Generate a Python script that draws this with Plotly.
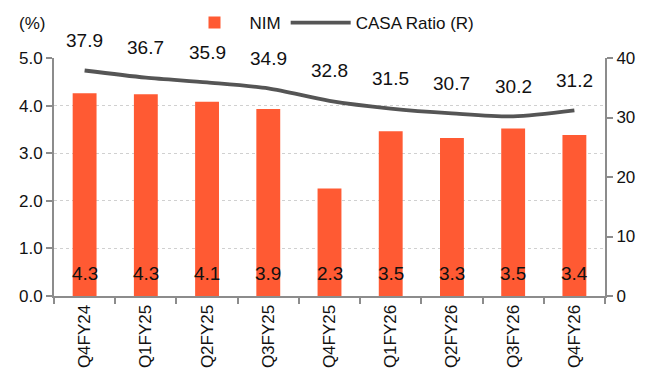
import plotly.graph_objects as go

categories = ["Q4FY24", "Q1FY25", "Q2FY25", "Q3FY25", "Q4FY25", "Q1FY26", "Q2FY26", "Q3FY26", "Q4FY26"]
nim = [4.26, 4.24, 4.08, 3.93, 2.26, 3.46, 3.32, 3.52, 3.38]
nim_labels = ["4.3", "4.3", "4.1", "3.9", "2.3", "3.5", "3.3", "3.5", "3.4"]
casa = [37.9, 36.7, 35.9, 34.9, 32.8, 31.5, 30.7, 30.2, 31.2]
left_ticks = [0, 1, 2, 3, 4, 5]
right_ticks = [0, 10, 20, 30, 40]

FONT = "Liberation Sans, Arial, sans-serif"
BAR_COLOR = "#FF5A33"
LINE_COLOR = "#555555"
AXIS_COLOR = "#8C8C8C"
TXT = "#111111"

fig = go.Figure()
fig.add_trace(go.Bar(x=categories, y=nim, name="NIM", marker=dict(color=BAR_COLOR, line=dict(width=0)), yaxis="y"))
fig.add_trace(go.Scatter(x=categories, y=casa, name="CASA Ratio (R)", mode="lines",
                         line=dict(color=LINE_COLOR, width=3.8, shape="spline", smoothing=0.8), yaxis="y2"))

annotations = []
for c, lab in zip(categories, nim_labels):
    annotations.append(dict(x=c, y=0, xref="x", yref="y", text=lab, showarrow=False,
                            yanchor="middle", yshift=23, font=dict(size=19, color=TXT, family=FONT)))
for c, v in zip(categories, casa):
    annotations.append(dict(x=c, y=v, xref="x", yref="y2", text=f"{v:.1f}", showarrow=False,
                            yanchor="middle", yshift=30, font=dict(size=19, color=TXT, family=FONT)))
annotations.append(dict(x=-0.04, y=1.147, xref="paper", yref="paper", text="(%)", showarrow=False,
                        xanchor="center", yanchor="middle", font=dict(size=17, color=TXT, family=FONT)))

fig.update_layout(
    width=657, height=376,
    margin=dict(l=54, r=52, t=58, b=80, autoexpand=False),
    paper_bgcolor="white", plot_bgcolor="white",
    font=dict(family=FONT, size=17, color=TXT),
    bargap=0.61,
    showlegend=True,
    legend=dict(orientation="h", x=0.5, xanchor="center", y=1.147, yanchor="middle",
                font=dict(size=17, family=FONT), bgcolor="rgba(0,0,0,0)", itemwidth=60),
    xaxis=dict(type="category", showline=True, linecolor=AXIS_COLOR, linewidth=2, automargin=False,
               ticks="outside", tickson="boundaries", ticklen=6, tickcolor=AXIS_COLOR, tickwidth=2,
               tickangle=-90, tickfont=dict(size=17, family=FONT), showgrid=False, range=[-0.5, 8.5]),
    yaxis=dict(range=[0, 5], tickvals=left_ticks, tickformat=".1f", showline=True, linecolor=AXIS_COLOR,
               linewidth=2, ticks="outside", ticklen=6, tickcolor=AXIS_COLOR, tickwidth=2, automargin=False,
               showgrid=True, gridcolor="#D0D0D0", griddash="dot", gridwidth=1, zeroline=False,
               tickfont=dict(size=17, family=FONT)),
    yaxis2=dict(range=[0, 40], tickvals=right_ticks, overlaying="y", side="right", showline=True,
                linecolor=AXIS_COLOR, linewidth=2, ticks="outside", ticklen=6, tickcolor=AXIS_COLOR,
                tickwidth=2, showgrid=False, zeroline=False, automargin=False,
                tickfont=dict(size=17, family=FONT)),
    annotations=annotations,
)

fig.write_html("out.html")
